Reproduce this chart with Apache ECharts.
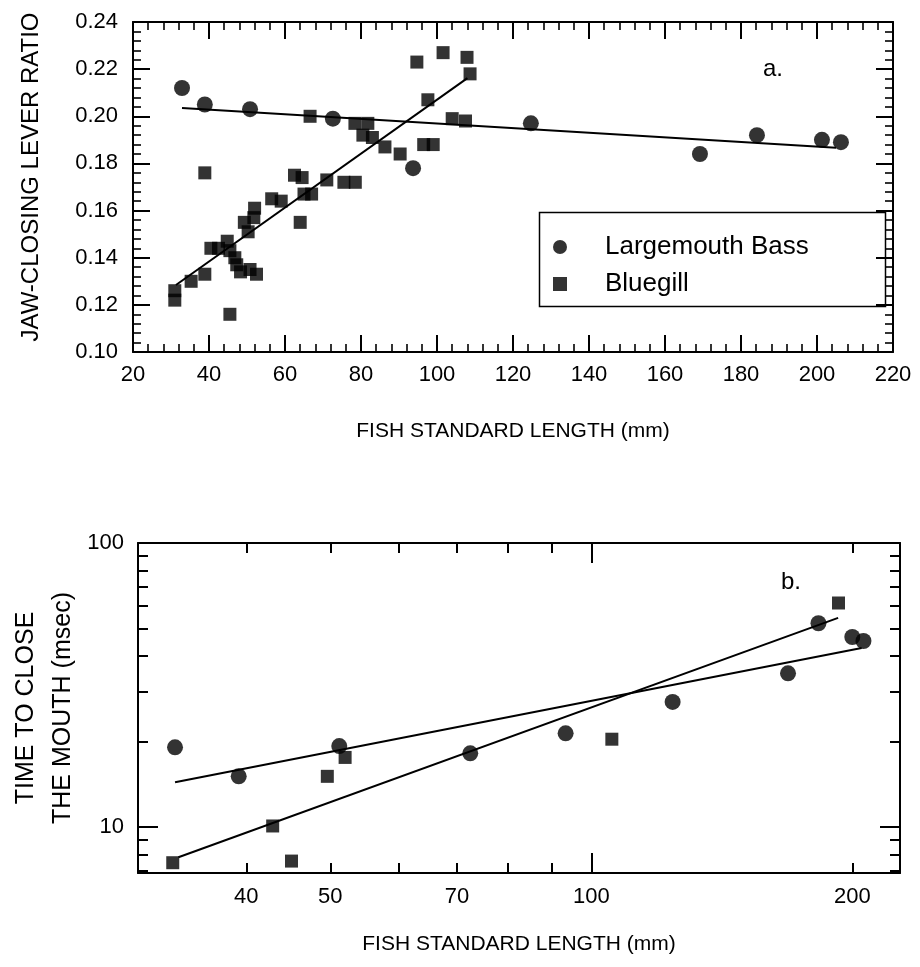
<!DOCTYPE html>
<html><head><meta charset="utf-8">
<script src="https://cdn.jsdelivr.net/npm/echarts@6/dist/echarts.min.js"></script>
<style>html,body{margin:0;padding:0;background:#fff}#c{width:920px;height:967px}</style>
</head><body><div id="c"></div>
<script>
// ---------- Panel a: jaw-closing lever ratio ----------
const bassLenA = [32.9, 38.9, 50.8, 72.6, 93.7, 124.7, 169.2, 184.2, 201.3, 206.3];
const bassRatioA = [0.212, 0.205, 0.203, 0.199, 0.178, 0.197, 0.184, 0.192, 0.190, 0.189];
const bluegillLenA = [31.0, 31.0, 35.3, 38.9, 38.9, 40.5, 42.5, 44.8, 45.5, 45.5, 46.8, 47.3, 48.3, 49.3, 50.3, 50.8, 52.5, 51.8, 52.0, 56.5, 59.0, 62.5, 64.5, 64.0, 65.0, 67.0, 66.6, 71.0, 75.5, 78.5, 78.4, 80.5, 81.8, 83.0, 86.3, 90.3, 94.7, 96.5, 99.0, 97.6, 101.6, 104.0, 107.5, 107.9, 108.7];
const bluegillRatioA = [0.126, 0.122, 0.130, 0.133, 0.176, 0.144, 0.144, 0.147, 0.143, 0.116, 0.140, 0.137, 0.134, 0.155, 0.151, 0.135, 0.133, 0.157, 0.161, 0.165, 0.164, 0.175, 0.174, 0.155, 0.167, 0.167, 0.200, 0.173, 0.172, 0.172, 0.197, 0.192, 0.197, 0.191, 0.187, 0.184, 0.223, 0.188, 0.188, 0.207, 0.227, 0.199, 0.198, 0.225, 0.218];
const bassFitLenA = [32.9, 205.0];
const bassFitRatioA = [0.2035, 0.1866];
const bluegillFitLenA = [31.3, 108.0];
const bluegillFitRatioA = [0.1284, 0.2162];

// ---------- Panel b: time to close the mouth ----------
const bassLenB = [33.1, 39.2, 51.2, 72.5, 93.4, 124.1, 168.6, 182.8, 200.0, 206.0];
const bassTimeB = [19.1, 15.1, 19.3, 18.2, 21.4, 27.6, 34.8, 52.2, 46.7, 45.2];
const bluegillLenB = [32.9, 42.9, 45.1, 49.6, 52.0, 105.6, 192.8];
const bluegillTimeB = [7.5, 10.1, 7.6, 15.1, 17.6, 20.4, 61.5];
const bassFitLenB = [33.1, 205.0];
const bassFitTimeB = [14.4, 42.7];
const bluegillFitLenB = [33.4, 192.6];
const bluegillFitTimeB = [7.84, 54.5];

// tick values for panel b (log axes)
const xLabelsB = [40, 50, 70, 100, 200];
const xMinorTicksB = [40, 50, 60, 70, 80, 90, 200];
const xMajorTicksB = [100];
const yLabelsB = [10, 100];
const yMinorTicksB = [7, 8, 9, 20, 30, 40, 50, 60, 70, 80, 90];
const yMajorTicksB = [10, 100];

const seriesNames = ['Largemouth Bass', 'Bluegill'];
const xTitle = 'FISH STANDARD LENGTH (mm)';
const yTitleA = 'JAW-CLOSING LEVER RATIO';
const yTitleB = 'TIME TO CLOSE\nTHE MOUTH (msec)';

const zip = (a, b) => a.map((v, i) => [v, b[i]]);
const L = Math.log10;
const FONT = 'Liberation Sans, Arial, Helvetica, sans-serif';
const K = '#000';
const line2 = { lineStyle: { color: K, width: 2 } };
const noSplit = { show: false };
const labelStyle = { color: K, fontFamily: FONT, fontSize: 22 };

const xMinB = 30, xMaxB = 227, yMinB = 6.9, yMaxB = 100;

function overlayX(pos, vals, len, labels) {
  return {
    gridIndex: 1, type: 'value', min: L(xMinB), max: L(xMaxB), position: pos,
    axisLine: { show: false }, splitLine: noSplit,
    axisTick: { show: true, inside: true, length: len, customValues: vals.map(L), lineStyle: { color: K, width: 2 } },
    axisLabel: labels ? Object.assign({ customValues: labels.map(L), margin: 13, formatter: v => String(Math.round(Math.pow(10, v))) }, labelStyle) : { show: false }
  };
}
function overlayY(pos, vals, len, labels) {
  return {
    gridIndex: 1, type: 'value', min: L(yMinB), max: L(yMaxB), position: pos,
    axisLine: { show: false }, splitLine: noSplit,
    axisTick: { show: true, inside: true, length: len, customValues: vals.map(L), lineStyle: { color: K, width: 2 } },
    axisLabel: labels ? Object.assign({ customValues: labels.map(L), margin: 14, formatter: v => String(Math.round(Math.pow(10, v))) }, labelStyle) : { show: false }
  };
}
function valueAxisA(pos, min, max, interval, showLabel, fmt, margin) {
  return {
    gridIndex: 0, type: 'value', min: min, max: max, interval: interval, position: pos,
    axisLine: line2, splitLine: noSplit,
    axisTick: { show: true, inside: true, length: 17, lineStyle: { color: K, width: 2 } },
    minorTick: { show: true, splitNumber: 5, length: 8, lineStyle: { color: K, width: 1.6 } },
    axisLabel: showLabel ? Object.assign({ margin: margin, formatter: fmt }, labelStyle) : { show: false }
  };
}

const xA0 = valueAxisA('bottom', 20, 220, 20, true, v => String(v), 12);
Object.assign(xA0, { name: xTitle, nameLocation: 'middle', nameGap: 69, nameTextStyle: { color: K, fontFamily: FONT, fontSize: 21 } });
const xA1 = valueAxisA('top', 20, 220, 20, false);
const yA0 = valueAxisA('left', 0.10, 0.24, 0.02, true, v => v.toFixed(2), 15);
Object.assign(yA0, { name: yTitleA, nameLocation: 'middle', nameGap: 90, nameRotate: 90, nameTextStyle: { color: K, fontFamily: FONT, fontSize: 24, padding: [0, 0, 0, 20] } });
const yA1 = valueAxisA('right', 0.10, 0.24, 0.02, false);

const xB0 = {
  gridIndex: 1, type: 'log', min: xMinB, max: xMaxB, position: 'bottom',
  axisLine: line2, axisTick: { show: false }, axisLabel: { show: false }, splitLine: noSplit, minorTick: { show: false },
  name: xTitle, nameLocation: 'middle', nameGap: 61, nameTextStyle: { color: K, fontFamily: FONT, fontSize: 21 }
};
const xB1 = Object.assign({}, xB0, { position: 'top', name: '' });
const yB0 = {
  gridIndex: 1, type: 'log', min: yMinB, max: yMaxB, position: 'left',
  axisLine: line2, axisTick: { show: false }, axisLabel: { show: false }, splitLine: noSplit, minorTick: { show: false },
  name: yTitleB, nameLocation: 'middle', nameGap: 56, nameRotate: 90,
  nameTextStyle: { color: K, fontFamily: FONT, fontSize: 25, lineHeight: 37, align: 'center' }
};
const yB1 = Object.assign({}, yB0, { position: 'right', name: '' });

const scatterStyle = { color: K };
const fitLine = (xi, yi, xs, ys) => ({
  type: 'line', xAxisIndex: xi, yAxisIndex: yi, data: zip(xs, ys), symbol: 'none', silent: true,
  lineStyle: { color: K, width: 2 }, z: 1
});

const option = {
  animation: false,
  backgroundColor: '#fff',
  textStyle: { fontFamily: FONT },
  grid: [
    { left: 133, top: 22, width: 760, height: 330, containLabel: false },
    { left: 137, top: 543, width: 763, height: 330, containLabel: false }
  ],
  xAxis: [xA0, xA1, xB0, xB1,
    overlayX('bottom', xMinorTicksB, 10, xLabelsB), overlayX('bottom', xMajorTicksB, 20, null),
    overlayX('top', xMinorTicksB, 10, null), overlayX('top', xMajorTicksB, 20, null)],
  yAxis: [yA0, yA1, yB0, yB1,
    overlayY('left', yMinorTicksB, 10, null), overlayY('left', yMajorTicksB, 20, yLabelsB),
    overlayY('right', yMinorTicksB, 10, null), overlayY('right', yMajorTicksB, 20, null)],
  legend: {
    orient: 'vertical', left: 548, top: 229, itemWidth: 14, itemHeight: 14, itemGap: 11,
    data: [{ name: seriesNames[0], icon: 'circle' }, { name: seriesNames[1], icon: 'rect' }],
    textStyle: { color: K, fontFamily: FONT, fontSize: 26, padding: [0, 0, 0, 33] },
    selectedMode: false
  },
  graphic: [
    { type: 'rect', left: 537, top: 210, shape: { width: 346, height: 94 }, style: { fill: 'none', stroke: K, lineWidth: 1.5 }, z: 100 },
    { type: 'text', left: 763, top: 57, style: { text: 'a.', fill: K, font: '24px ' + FONT }, z: 100 },
    { type: 'text', left: 781, top: 570, style: { text: 'b.', fill: K, font: '24px ' + FONT }, z: 100 }
  ],
  series: [
    { name: seriesNames[0], type: 'scatter', xAxisIndex: 0, yAxisIndex: 0, symbol: 'circle', symbolSize: 16, itemStyle: scatterStyle, data: zip(bassLenA, bassRatioA), z: 3 },
    { name: seriesNames[1], type: 'scatter', xAxisIndex: 0, yAxisIndex: 0, symbol: 'rect', symbolSize: 13, itemStyle: scatterStyle, data: zip(bluegillLenA, bluegillRatioA), z: 3 },
    fitLine(0, 0, bassFitLenA, bassFitRatioA),
    fitLine(0, 0, bluegillFitLenA, bluegillFitRatioA),
    { name: seriesNames[0], type: 'scatter', xAxisIndex: 2, yAxisIndex: 2, symbol: 'circle', symbolSize: 16, itemStyle: scatterStyle, data: zip(bassLenB, bassTimeB), z: 3 },
    { name: seriesNames[1], type: 'scatter', xAxisIndex: 2, yAxisIndex: 2, symbol: 'rect', symbolSize: 13, itemStyle: scatterStyle, data: zip(bluegillLenB, bluegillTimeB), z: 3 },
    fitLine(2, 2, bassFitLenB, bassFitTimeB),
    fitLine(2, 2, bluegillFitLenB, bluegillFitTimeB)
  ]
};

const chart = echarts.init(document.getElementById('c'), null, { renderer: 'canvas' });
chart.setOption(option);
</script>
</body></html>
